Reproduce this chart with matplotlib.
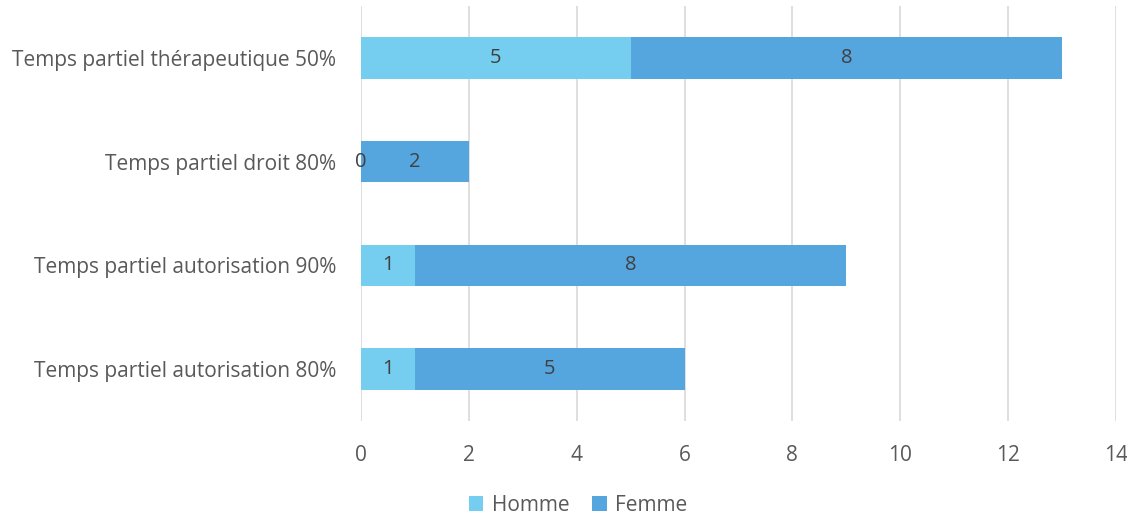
import matplotlib.pyplot as plt
import numpy as np

categories = ['Temps partiel autorisation 80%', 'Temps partiel autorisation 90%',
              'Temps partiel droit 80%', 'Temps partiel thérapeutique 50%']
homme = [1, 1, 0, 5]
femme = [5, 8, 2, 8]

plt.rcParams['font.family'] = ['Open Sans', 'DejaVu Sans']
txt = '#595959'

fig = plt.figure(figsize=(11.27, 5.18), dpi=100)
ax = fig.add_axes([0.3203, 0.1873, 0.6699, 0.8010])

y = np.arange(len(categories))
b1 = ax.barh(y, homme, height=0.4, color='#75CDEF', label='Homme', zorder=3)
b2 = ax.barh(y, femme, left=homme, height=0.4, color='#55A5DE', label='Femme', zorder=3)
ax.bar_label(b1, label_type='center', color='#404040', fontsize=14.5)
ax.bar_label(b2, label_type='center', color='#404040', fontsize=14.5)

ax.set_xlim(0, 14)
ax.set_ylim(-0.5, len(categories) - 0.5)
ax.set_xticks(range(0, 15, 2))
ax.set_yticks(y)
ax.set_yticklabels(categories)
ax.grid(axis='x', color='#D9D9D9', linewidth=1.2, zorder=0)
for s in ax.spines.values():
    s.set_visible(False)
ax.tick_params(length=0, colors=txt, labelsize=15)
ax.tick_params(axis='x', pad=17)
ax.tick_params(axis='y', pad=18)

ax.legend(ncol=2, frameon=False, loc='center',
          bbox_to_anchor=(0.513, 0.025), bbox_transform=fig.transFigure,
          fontsize=15, labelcolor=txt, handlelength=0.7, handleheight=0.7,
          columnspacing=1.1, handletextpad=0.4)

fig.savefig('out.png', dpi=100)
